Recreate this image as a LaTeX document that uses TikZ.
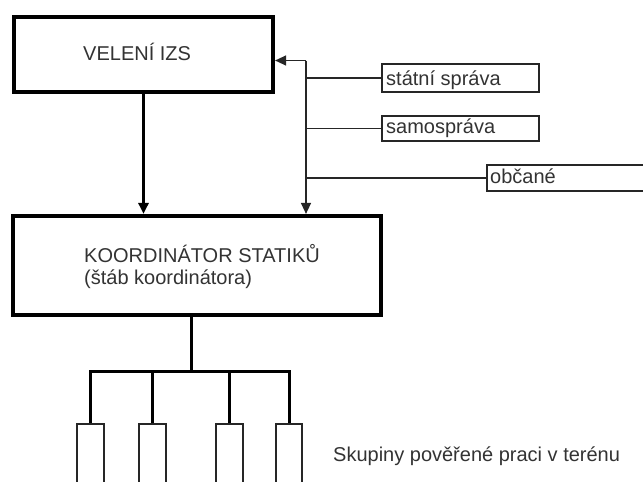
\documentclass[tikz,border=0pt]{standalone}
\usepackage{fontspec}
\setmainfont{Liberation Sans}
\usetikzlibrary{arrows.meta}
\begin{document}
\begin{tikzpicture}[x=1pt,y=-1pt,
  heavybox/.style={draw=black,line width=4.2pt,rectangle,inner sep=0pt,fill=none},
  lightbox/.style={draw=black!85,line width=1.4pt,rectangle,inner sep=0pt},
  heavyline/.style={draw=black,line width=3pt},
  lightline/.style={draw=black!85,line width=1.4pt},
  tip/.style={-{Triangle[length=11pt,width=10pt]}},
  lbl/.style={anchor=base west,inner sep=0pt,text=black!80,font=\fontsize{20}{22}\selectfont}]
\clip (0,0) rectangle (643,482);
\fill[white] (0,0) rectangle (643,482);

% boxes
\node[heavybox,minimum width=259pt,minimum height=75pt] (veleni) at (143.5,54.5) {};
\node[heavybox,minimum width=368pt,minimum height=99pt] (koord) at (197,265.5) {};
\node[lightbox,minimum width=157pt,minimum height=28pt] (statni) at (460.5,78) {};
\node[lightbox,minimum width=157pt,minimum height=25pt] (samo) at (460.5,128.5) {};
\node[lightbox,minimum width=173pt,minimum height=26pt] (obcane) at (573.5,178) {};
\node[lightbox,minimum width=27pt,minimum height=80pt] (g1) at (90.5,464) {};
\node[lightbox,minimum width=27pt,minimum height=80pt] (g2) at (152.5,464) {};
\node[lightbox,minimum width=27pt,minimum height=80pt] (g3) at (229.5,464) {};
\node[lightbox,minimum width=26pt,minimum height=80pt] (g4) at (289,464) {};

% texts
\node[lbl] (tveleni) at (83,60) {VELENÍ IZS};
\node[lbl] (tkoord) at (84,262) {KOORDINÁTOR STATIKŮ};
\node[lbl] (tstab) at (84,284) {(štáb koordinátora)};
\node[lbl] (tstatni) at (386,85) {státní správa};
\node[lbl] (tsamo) at (386,133) {samospráva};
\node[lbl] (tobcane) at (490,183) {občané};
\node[lbl] (tskup) at (333,461) {Skupiny pověřené praci v terénu};

% connectors
\draw[heavyline,tip] (veleni.south) -- (veleni.south |- koord.north);
\coordinate (rtop) at (306,60.5);
\draw[lightline,tip] (rtop) -- (veleni.east |- rtop);
\draw[lightline,tip] (rtop) -- (rtop |- koord.north);
\draw[lightline] (statni.west -| rtop) -- (statni.west);
\draw[lightline] (samo.west -| rtop) -- (samo.west);
\draw[lightline] (obcane.west -| rtop) -- (obcane.west);

\coordinate (stem) at (191,371);
\draw[heavyline] (stem |- koord.south) -- (stem);
\draw[heavyline] (g1.north) -- (g1.north |- stem) -- (g4.north |- stem) -- (g4.north);
\draw[heavyline] (g2.north) -- (g2.north |- stem);
\draw[heavyline] (g3.north) -- (g3.north |- stem);
\end{tikzpicture}
\end{document}
